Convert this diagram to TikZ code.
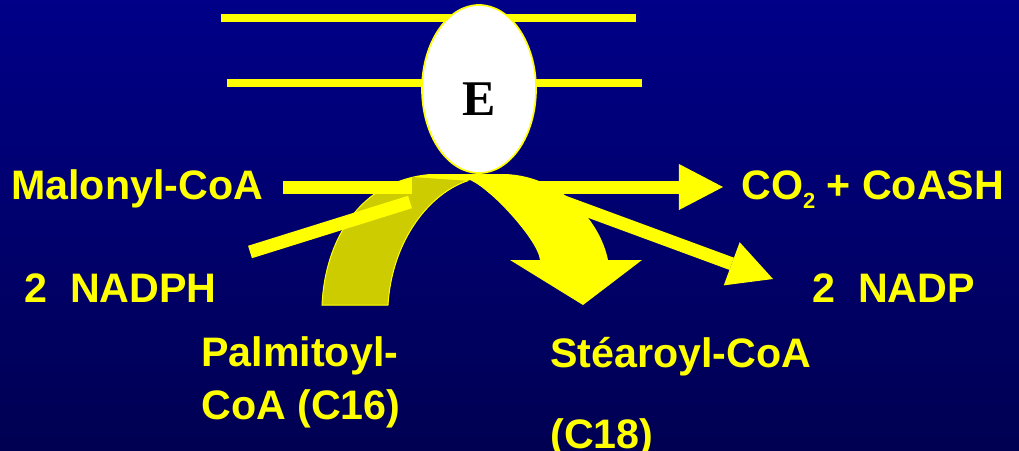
\documentclass[tikz,border=0pt]{standalone}
\usepackage{fontspec}
\setmainfont{Liberation Sans}
\newfontfamily\Eserif{Liberation Serif}
\usetikzlibrary{arrows.meta,shapes.geometric}
\definecolor{bgtop}{RGB}{0,0,136}
\definecolor{bgbot}{RGB}{0,0,82}
\definecolor{yel}{RGB}{255,255,0}
\definecolor{olivey}{RGB}{204,204,0}
\begin{document}
\begin{tikzpicture}[x=0.025cm,y=-0.025cm,
  lbl/.style={text=yel, font=\bfseries\fontsize{29.3}{35}\selectfont, inner sep=0pt, anchor=base west},
  bar/.style={draw=yel, line width=0.325cm},
  fat/.style={bar, -{Triangle[length=1.1cm,width=1.15cm,line width=0pt]}},
  membrane/.style={draw=yel, line width=0.2cm},
  bgshade/.style={top color=bgtop, bottom color=bgbot}]
\useasboundingbox (0,0) rectangle (1019,450);
\shade[bgshade] (0,0) rectangle (1019,450);
% membrane
\draw[membrane] (221,18) -- (636,18);
\draw[membrane] (227,83) -- (642,83);
% labels
\node[lbl] (mal) at (11,199) {Malonyl-CoA};
\node[lbl] (co) at (741,199) {CO\raisebox{-6.4pt}{\fontsize{15.6}{16}\selectfont 2} + CoASH};
\node[lbl] (nadph) at (24,302) {2\ \ NADPH};
\node[lbl] (nadp) at (812,302) {2\ \ NADP};
\node[lbl, align=left, font=\bfseries\fontsize{29.3}{37}\selectfont] (palm) at (201,419) {Palmitoyl-\\CoA (C16)};
\node[lbl, align=left, font=\bfseries\fontsize{29.3}{57.6}\selectfont] (stea) at (550,448) {Stéaroyl-CoA\\(C18)};
% connector end points
\coordinate (malS) at (283,187);
\coordinate (coT) at (723,187);
\coordinate (nadphS) at (250,252);
\coordinate (nadphE) at (410,202);
\coordinate (nadpS) at (545,195);
\coordinate (nadpT) at (773,279);
% straight arrows
\draw[fat] (malS) -- (coT);
\draw[fat] (nadpS) -- (nadpT);
% hide line under the arch
\begin{scope}
\clip (388,305) .. controls (392,240) and (430,192) .. (470,180) .. controls (490,188) and (538,240) .. (540,260) -- cycle;
\shade[bgshade] (0,0) rectangle (1019,450);
\end{scope}
% curved band arrow
\fill[yel] (322,305) .. controls (325,240) and (360,180) .. (430,174) -- (505,174)
  .. controls (560,176) and (600,220) .. (608,260) -- (642,260) -- (583,305) -- (510,260) -- (540,260)
  .. controls (538,240) and (490,188) .. (470,180) .. controls (430,192) and (392,240) .. (388,305) -- cycle;
\begin{scope}
\clip (300,194) -- (412,194) -- (412,177) -- (470,181) -- (470,320) -- (300,320) -- cycle;
\filldraw[fill=olivey, draw=yel, line width=0.7pt] (322,305) .. controls (325,240) and (360,180) .. (430,174) -- (470,180)
  .. controls (430,192) and (392,240) .. (388,305) -- cycle;
\end{scope}
\draw[bar] (nadphS) -- (nadphE);
% enzyme
\node[ellipse, draw=yel, fill=white, line width=1.2pt, minimum width=2.85cm, minimum height=4.2cm, inner sep=0pt] (E) at (479,89) {};
\node[anchor=base, inner sep=0pt, font=\Eserif\bfseries\fontsize{35.5}{40}\selectfont] (Etxt) at (479,115) {E};
\end{tikzpicture}
\end{document}
